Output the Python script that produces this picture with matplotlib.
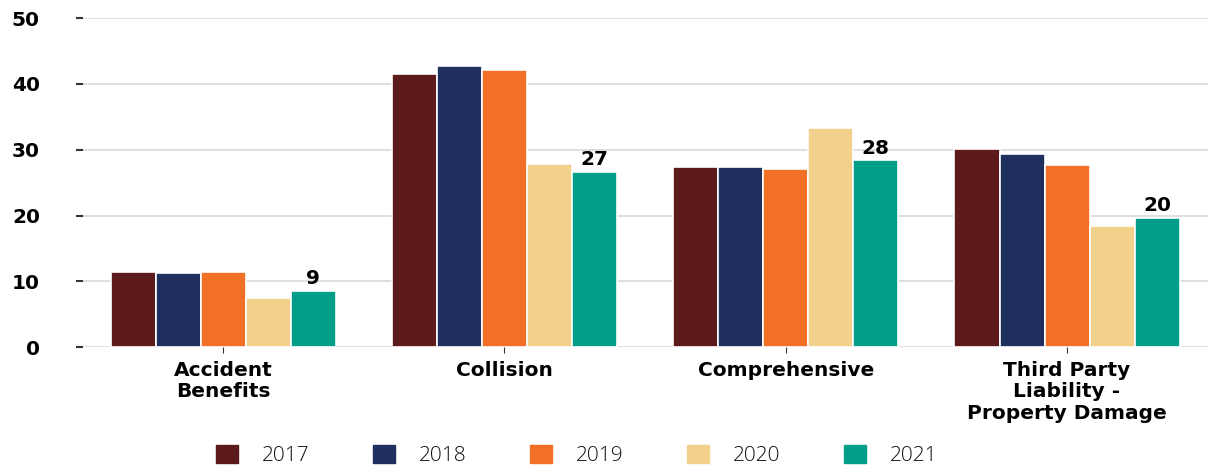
import numpy as np
import matplotlib.pyplot as plt
from matplotlib.patches import Patch

# Данные
categories = ['Accident\nBenefits', 'Collision', 'Comprehensive',
              'Third Party\nLiability -\nProperty Damage']
years = ['2017', '2018', '2019', '2020', '2021']
v2017 = [11.4, 41.5, 27.4, 30.1]
v2018 = [11.3, 42.7, 27.4, 29.3]
v2019 = [11.4, 42.1, 27.1, 27.7]
v2020 = [7.45, 27.8, 33.3, 18.4]
v2021 = [8.6, 26.6, 28.4, 19.6]
series = [v2017, v2018, v2019, v2020, v2021]
colors = ['#5c1a1a', '#1f2f5e', '#f26f26', '#f2d18c', '#009e88']

fig = plt.figure(figsize=(12.11, 4.66), dpi=100)
ax = fig.add_axes([0.0685, 0.255, 0.929, 0.706])

x = np.arange(len(categories))
w = 0.16
for i, (vals, c) in enumerate(zip(series, colors)):
    bars = ax.bar(x + (i - 2) * w, vals, w, color=c, edgecolor='white',
                  linewidth=1.2, zorder=3)
    if i == 4:
        ax.bar_label(bars, labels=[f'{v:.0f}' for v in vals], padding=2,
                     fontsize=14.5, fontweight='bold')

ax.set_ylim(0, 50)
ax.set_xlim(-0.498, 3.501)
ax.set_yticks(range(0, 51, 10))
ax.yaxis.grid(True, color='#d9d9d9', linewidth=1.2, zorder=0)
for s in ax.spines.values():
    s.set_visible(False)
ax.tick_params(axis='y', length=5, pad=26, color='#333333', width=1.5,
               labelsize=14.5)
ax.tick_params(axis='x', length=4, color='#333333', labelsize=14.5, pad=6)
ax.set_xticks(x)
ax.set_xticklabels(categories, fontweight='bold', linespacing=1.15)
for t in ax.get_yticklabels():
    t.set_fontweight('bold')

handles = [Patch(color=c) for c in colors]
fig.legend(handles, years, loc='lower center', ncol=5, frameon=False,
           bbox_to_anchor=(0.4765, -0.04),
           prop={'family': 'Open Sans', 'size': 15, 'weight': 'light'},
           handlelength=1.05, handleheight=0.95, columnspacing=3.05,
           handletextpad=1.15, labelcolor='#111111')

plt.savefig('out.png', dpi=100)
